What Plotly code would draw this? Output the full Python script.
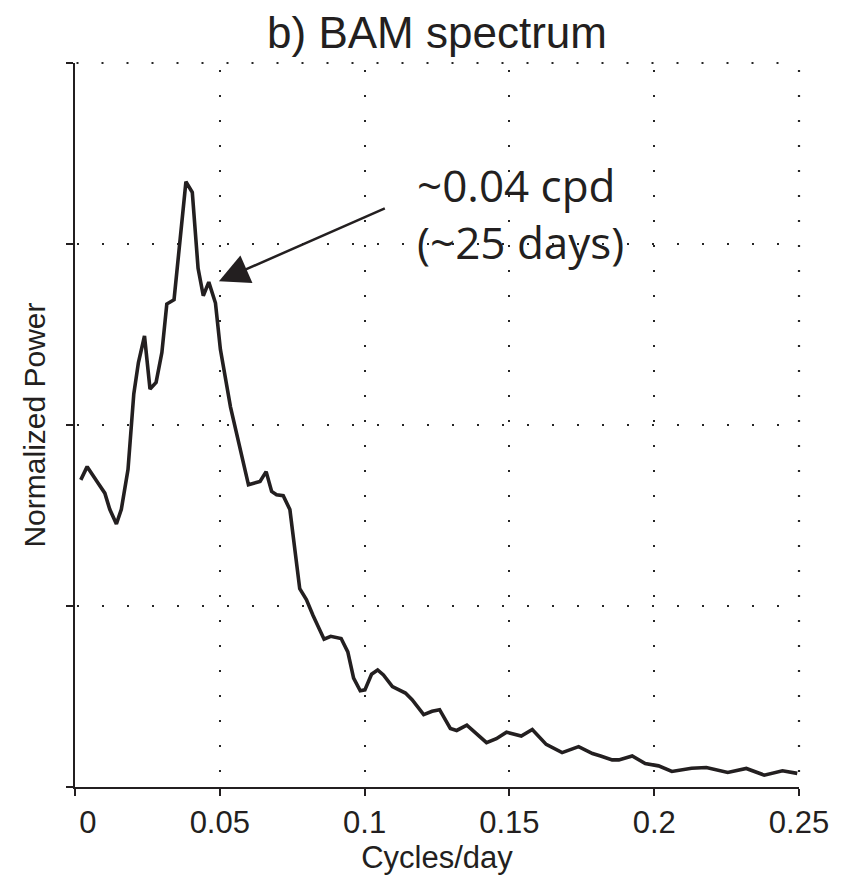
import plotly.graph_objects as go

# ---- data ----
freq = [0.0020, 0.0042, 0.0080, 0.0103, 0.0120, 0.0143, 0.0160, 0.0183, 0.0203, 0.0219,
        0.0240, 0.0259, 0.0280, 0.0300, 0.0317, 0.0342, 0.0383, 0.0405, 0.0425, 0.0443,
        0.0462, 0.0485, 0.0502, 0.0537, 0.0599, 0.0639, 0.0660, 0.0679, 0.0696, 0.0719,
        0.0742, 0.0776, 0.0799, 0.0822, 0.0860, 0.0883, 0.0919, 0.0942, 0.0962, 0.0985,
        0.1001, 0.1024, 0.1045, 0.1065, 0.1096, 0.1141, 0.1164, 0.1204, 0.1233, 0.1259,
        0.1296, 0.1318, 0.1353, 0.1387, 0.1421, 0.1455, 0.1490, 0.1541, 0.1579, 0.1627,
        0.1682, 0.1739, 0.1787, 0.1815, 0.1855, 0.1878, 0.1924, 0.1969, 0.2015, 0.2061,
        0.2129, 0.2180, 0.2254, 0.2318, 0.2380, 0.2443, 0.2494]
power = [0.4242, 0.4425, 0.4196, 0.4059, 0.3836, 0.3634, 0.3836, 0.4384, 0.5429, 0.5863,
         0.6229, 0.5497, 0.5589, 0.6000, 0.6671, 0.6730, 0.8360, 0.8215, 0.7164, 0.6785,
         0.6973, 0.6685, 0.6045, 0.5247, 0.4174, 0.4219, 0.4356, 0.4082, 0.4037, 0.4023,
         0.3832, 0.2740, 0.2589, 0.2370, 0.2041, 0.2082, 0.2051, 0.1867, 0.1503, 0.1329,
         0.1342, 0.1558, 0.1616, 0.1548, 0.1388, 0.1297, 0.1205, 0.1000, 0.1045, 0.1068,
         0.0808, 0.0781, 0.0853, 0.0726, 0.0612, 0.0667, 0.0758, 0.0703, 0.0795, 0.0589,
         0.0475, 0.0558, 0.0462, 0.0429, 0.0374, 0.0374, 0.0429, 0.0325, 0.0292, 0.0215,
         0.0260, 0.0270, 0.0201, 0.0256, 0.0164, 0.0223, 0.0188]

x_ticks = [0, 0.05, 0.1, 0.15, 0.2, 0.25]
x_tick_labels = ["\u00a0\u00a0\u00a00", "0.05", "0.1", "0.15", "0.2", "0.25"]
y_ticks = [0, 0.25, 0.5, 0.75, 1.0]

arrow_tip = (0.0497, 0.6986)
arrow_tail = (0.1075, 0.8000)
label_pos = (0.1175, 0.792)
label_text = "~0.04 cpd<br>(~25 days)"

INK = "#231f20"
DOT = "#262626"
FONT = "Liberation Sans, Arial, sans-serif"

fig = go.Figure()
fig.add_trace(go.Scatter(
    x=freq, y=power, mode="lines",
    line=dict(color=INK, width=3.6),
    hoverinfo="skip", showlegend=False,
))

fig.update_layout(
    width=841, height=876,
    margin=dict(l=75, r=36, t=63, b=83),
    paper_bgcolor="white", plot_bgcolor="white",
    font=dict(family=FONT, color=INK),
    title=dict(text="b) BAM spectrum", x=0.5, xref="paper", xanchor="center",
               y=1 - 33 / 876, yref="container", yanchor="middle",
               font=dict(family=FONT, size=44, color=INK)),
    xaxis=dict(
        range=[0, 0.25], tickvals=x_ticks, ticktext=x_tick_labels,
        showline=True, linecolor=INK, linewidth=2.2,
        ticks="outside", ticklen=7, tickwidth=2, tickcolor=INK,
        tickfont=dict(family=FONT, size=31, color=INK),
        showgrid=True, gridcolor=DOT, gridwidth=2.2, griddash="0px,7px,2px,16px",
        zeroline=False,
        title=dict(text="Cycles/day", font=dict(family=FONT, size=31, color=INK), standoff=2),
    ),
    yaxis=dict(
        range=[0, 1], tickvals=y_ticks, showticklabels=False,
        showline=True, linecolor=INK, linewidth=2.2,
        ticks="outside", ticklen=7, tickwidth=2, tickcolor=INK,
        showgrid=True, gridcolor=DOT, gridwidth=2.2, griddash="0px,1.5px,2px,21.5px",
        zeroline=False,
        title=dict(text="Normalized Power", font=dict(family=FONT, size=30, color=INK), standoff=11),
    ),
)

# dotted frame on top and right edges (continuing the grid)
fig.add_shape(type="line", xref="x domain", yref="y domain", x0=0, x1=1, y0=1, y1=1,
              line=dict(color=DOT, width=2.2, dash="0px,1.5px,2px,21.5px"), layer="below")
fig.add_shape(type="line", xref="x domain", yref="y domain", x0=1, x1=1, y0=1, y1=0,
              line=dict(color=DOT, width=2.2, dash="0px,7px,2px,16px"), layer="below")

fig.add_annotation(
    x=arrow_tip[0], y=arrow_tip[1], ax=arrow_tail[0], ay=arrow_tail[1],
    xref="x", yref="y", axref="x", ayref="y",
    text="", showarrow=True, arrowhead=2, arrowsize=2.4, arrowwidth=2.5,
    arrowcolor=INK, standoff=0,
)
fig.add_annotation(
    x=label_pos[0], y=label_pos[1], xref="x", yref="y",
    text=label_text, showarrow=False, xanchor="left", yanchor="middle", align="left",
    font=dict(family="Open Sans, sans-serif", size=44, color=INK),
)

fig.write_html("out.html")
